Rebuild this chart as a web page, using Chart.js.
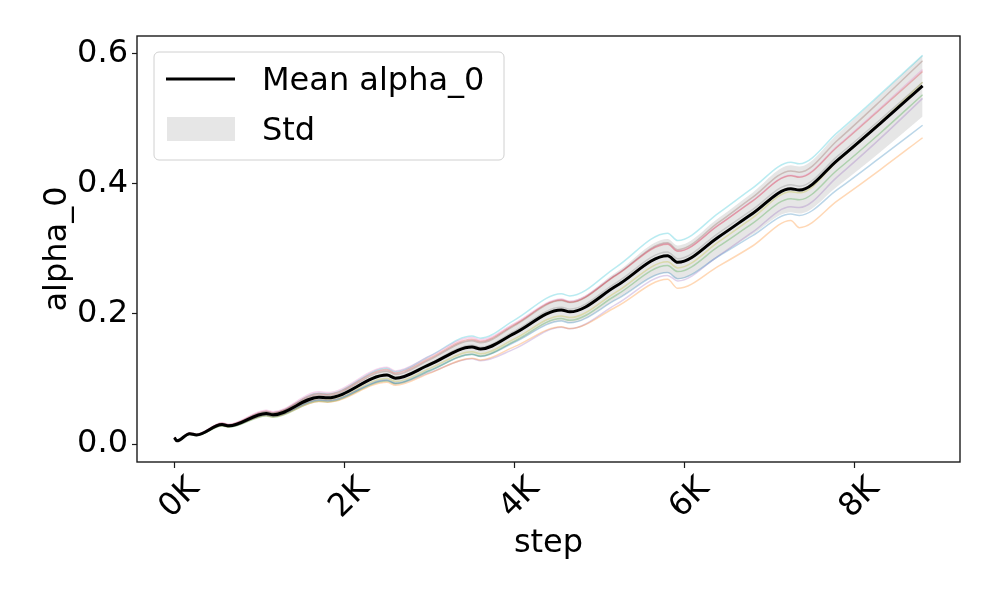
<!DOCTYPE html>
<html>
<head>
<meta charset="utf-8">
<script src="https://cdn.jsdelivr.net/npm/chart.js@4.4.1/dist/chart.umd.min.js"></script>
<style>
    html, body { margin: 0; padding: 0; background: #fff; }
</style>
</head>
<body>
<canvas id="alphaChart" width="996" height="598"></canvas>
<script>
/* ==================
    DATOS
================== */

const steps = [0, 30, 180, 260, 560, 640, 1080, 1160, 1700, 1800, 2500, 2600, 3000, 3500,
    3600, 4000, 4550, 4650, 5200, 5800, 5920, 6400, 6800, 7250, 7350, 7800, 8300, 8800];

const meanAlpha = [0.010, 0.005, 0.016, 0.014, 0.030, 0.028, 0.047, 0.045, 0.072, 0.071, 0.106, 0.101, 0.122, 0.149,
    0.146, 0.170, 0.206, 0.203, 0.243, 0.289, 0.279, 0.318, 0.354, 0.392, 0.390, 0.436, 0.492, 0.550];

const stdAlpha = [0.001, 0.001, 0.0015, 0.0015, 0.002, 0.002, 0.003, 0.003, 0.005, 0.005, 0.008, 0.008, 0.009, 0.011,
    0.012, 0.014, 0.017, 0.017, 0.021, 0.026, 0.026, 0.029, 0.032, 0.036, 0.036, 0.040, 0.044, 0.047];

// corridas individuales (una por semilla)
const runBlue = [0.0096, 0.0048, 0.0153, 0.0134, 0.0286, 0.0266, 0.0444, 0.0424, 0.0673, 0.0662, 0.0983, 0.0936, 0.1129, 0.1375,
    0.1346, 0.1564, 0.1889, 0.1862, 0.2221, 0.2633, 0.2539, 0.2884, 0.3200, 0.3532, 0.3510, 0.3910, 0.4398, 0.4895];
const runOrange = [0.0097, 0.0048, 0.0154, 0.0135, 0.0285, 0.0265, 0.0438, 0.0418, 0.0655, 0.0644, 0.0949, 0.0903, 0.1086, 0.1319,
    0.1291, 0.1496, 0.1801, 0.1773, 0.2109, 0.2529, 0.2391, 0.2732, 0.3041, 0.3434, 0.3323, 0.3736, 0.4211, 0.4703];
const runGreen = [0.0093, 0.0047, 0.0148, 0.0130, 0.0277, 0.0259, 0.0432, 0.0413, 0.0657, 0.0648, 0.0970, 0.0925, 0.1122, 0.1378,
    0.1352, 0.1581, 0.1927, 0.1901, 0.2289, 0.2740, 0.2648, 0.3034, 0.3388, 0.3767, 0.3752, 0.4212, 0.4772, 0.5363];
const runRed = [0.0106, 0.0053, 0.0170, 0.0149, 0.0320, 0.0298, 0.0503, 0.0482, 0.0775, 0.0765, 0.1145, 0.1091, 0.1318, 0.1609,
    0.1577, 0.1836, 0.2213, 0.2179, 0.2595, 0.3069, 0.2960, 0.3361, 0.3731, 0.4120, 0.4095, 0.4565, 0.5137, 0.5720];
const runPurple = [0.0098, 0.0049, 0.0156, 0.0137, 0.0291, 0.0271, 0.0450, 0.0431, 0.0681, 0.0670, 0.0975, 0.0925, 0.1098, 0.1311,
    0.1279, 0.1462, 0.1794, 0.1772, 0.2148, 0.2589, 0.2505, 0.2891, 0.3253, 0.3642, 0.3631, 0.4107, 0.4689, 0.5308];
const runBrown = [0.0103, 0.0052, 0.0165, 0.0145, 0.0311, 0.0290, 0.0489, 0.0469, 0.0754, 0.0744, 0.1118, 0.1067, 0.1293, 0.1587,
    0.1556, 0.1819, 0.2204, 0.2172, 0.2600, 0.3092, 0.2985, 0.3403, 0.3788, 0.4194, 0.4173, 0.4665, 0.5264, 0.5885];
const runPink = [0.0108, 0.0054, 0.0173, 0.0152, 0.0327, 0.0306, 0.0518, 0.0496, 0.0802, 0.0792, 0.1179, 0.1122, 0.1348, 0.1635,
    0.1600, 0.1853, 0.2229, 0.2192, 0.2605, 0.3074, 0.2963, 0.3364, 0.3738, 0.4128, 0.4103, 0.4578, 0.5156, 0.5748];
const runGray = [0.0100, 0.0050, 0.0160, 0.0140, 0.0301, 0.0281, 0.0472, 0.0453, 0.0726, 0.0716, 0.1073, 0.1023, 0.1238, 0.1516,
    0.1486, 0.1734, 0.2101, 0.2071, 0.2479, 0.2948, 0.2846, 0.3240, 0.3600, 0.3983, 0.3959, 0.4421, 0.4979, 0.5555];
const runOlive = [0.0096, 0.0048, 0.0153, 0.0134, 0.0287, 0.0268, 0.0449, 0.0429, 0.0685, 0.0675, 0.1007, 0.0960, 0.1159, 0.1416,
    0.1387, 0.1615, 0.1968, 0.1942, 0.2338, 0.2798, 0.2704, 0.3104, 0.3473, 0.3873, 0.3857, 0.4343, 0.4935, 0.5555];
const runCyan = [0.0104, 0.0052, 0.0167, 0.0147, 0.0316, 0.0296, 0.0501, 0.0481, 0.0780, 0.0770, 0.1163, 0.1110, 0.1348, 0.1658,
    0.1626, 0.1904, 0.2307, 0.2274, 0.2722, 0.3237, 0.3125, 0.3546, 0.3929, 0.4328, 0.4302, 0.4785, 0.5368, 0.5968];

const runs = [runBlue, runOrange, runGreen, runRed, runPurple, runBrown, runPink, runGray, runOlive, runCyan];
const runColors = ["#1f77b4", "#ff7f0e", "#2ca02c", "#d62728", "#9467bd",
    "#8c564b", "#e377c2", "#7f7f7f", "#bcbd22", "#17becf"];

const xTicks = [0, 2000, 4000, 6000, 8000];
const yTicks = [0.0, 0.2, 0.4, 0.6];

/* ==================
    AYUDAS
================== */

const FUENTE = "'DejaVu Sans', 'Liberation Sans', sans-serif";

function aPuntos(valores) {
    return steps.map((s, i) => ({ x: s, y: valores[i] }));
}

function hexConAlfa(hex, alfa) {
    const r = parseInt(hex.slice(1, 3), 16);
    const g = parseInt(hex.slice(3, 5), 16);
    const b = parseInt(hex.slice(5, 7), 16);
    return `rgba(${r}, ${g}, ${b}, ${alfa})`;
}

// marco de los ejes + leyenda tipo matplotlib
const marcoYLeyenda = {
    id: "marcoYLeyenda",
    afterDraw(chart) {
        const { ctx, chartArea } = chart;
        ctx.save();
        ctx.strokeStyle = "#1a1a1a";
        ctx.lineWidth = 1.4;
        ctx.strokeRect(chartArea.left, chartArea.top,
            chartArea.right - chartArea.left, chartArea.bottom - chartArea.top);

        const x0 = chartArea.left + 17;
        const y0 = chartArea.top + 16;
        ctx.beginPath();
        ctx.roundRect(x0, y0, 350, 108, 5);
        ctx.fillStyle = "rgba(255, 255, 255, 0.8)";
        ctx.fill();
        ctx.strokeStyle = "#d0d0d0";
        ctx.lineWidth = 1;
        ctx.stroke();

        ctx.beginPath();
        ctx.moveTo(x0 + 12, y0 + 27);
        ctx.lineTo(x0 + 81, y0 + 27);
        ctx.strokeStyle = "#000";
        ctx.lineWidth = 3;
        ctx.stroke();

        ctx.fillStyle = "#e6e6e6";
        ctx.fillRect(x0 + 13, y0 + 65, 68, 24);

        ctx.fillStyle = "#000";
        ctx.font = `32px ${FUENTE}`;
        ctx.textBaseline = "alphabetic";
        ctx.textAlign = "left";
        ctx.fillText("Mean alpha_0", x0 + 108, y0 + 38);
        ctx.fillText("Std", x0 + 108, y0 + 88);
        ctx.restore();
    },
};

/* ==================
    GRAFICA
================== */

function renderizarGrafica() {
    const canvas = document.getElementById("alphaChart");
    if (!canvas || typeof Chart === "undefined") {
        return;
    }

    Chart.defaults.font.family = FUENTE;
    Chart.defaults.color = "#000";

    const datasets = [{
        label: "Mean alpha_0",
        data: aPuntos(meanAlpha),
        borderColor: "#000",
        borderWidth: 3,
        pointRadius: 0,
        cubicInterpolationMode: "monotone",
        fill: false,
    }];

    runs.forEach((run, i) => {
        datasets.push({
            label: `run ${i}`,
            data: aPuntos(run),
            borderColor: hexConAlfa(runColors[i], 0.3),
            borderWidth: 1.5,
            pointRadius: 0,
            cubicInterpolationMode: "monotone",
            fill: false,
        });
    });

    datasets.push({
        label: "Std",
        data: aPuntos(meanAlpha.map((m, i) => m + stdAlpha[i])),
        borderWidth: 0,
        borderColor: "rgba(0,0,0,0)",
        backgroundColor: "rgba(128, 128, 128, 0.2)",
        pointRadius: 0,
        cubicInterpolationMode: "monotone",
        fill: "+1",
    });
    datasets.push({
        label: "Std low",
        data: aPuntos(meanAlpha.map((m, i) => m - stdAlpha[i])),
        borderWidth: 0,
        borderColor: "rgba(0,0,0,0)",
        pointRadius: 0,
        cubicInterpolationMode: "monotone",
        fill: false,
    });

    new Chart(canvas.getContext("2d"), {
        type: "line",
        data: { datasets },
        options: {
            responsive: false,
            animation: false,
            devicePixelRatio: 1,
            layout: { padding: { top: 36, right: 36, left: 0, bottom: 0 } },
            plugins: {
                legend: { display: false },
                tooltip: { enabled: false },
            },
            scales: {
                x: {
                    type: "linear",
                    min: -440,
                    max: 9240,
                    afterFit: (scale) => { scale.height = 136; },
                    afterBuildTicks: (scale) => { scale.ticks = xTicks.map((v) => ({ value: v })); },
                    border: { display: false },
                    grid: { drawOnChartArea: false, drawTicks: true, tickLength: 6, color: "#1a1a1a", tickWidth: 1.2 },
                    ticks: {
                        autoSkip: false,
                        minRotation: 45,
                        maxRotation: 45,
                        labelOffset: 20,
                        padding: 2,
                        font: { size: 32 },
                        callback: (v) => `${v / 1000}K`,
                    },
                    title: {
                        display: true,
                        text: "step",
                        font: { size: 32 },
                        padding: { top: 0, bottom: 35 },
                    },
                },
                y: {
                    type: "linear",
                    min: -0.0275,
                    max: 0.6265,
                    afterFit: (scale) => { scale.width = 137; },
                    afterBuildTicks: (scale) => { scale.ticks = yTicks.map((v) => ({ value: v })); },
                    border: { display: false },
                    grid: { drawOnChartArea: false, drawTicks: true, tickLength: 5, color: "#1a1a1a", tickWidth: 1.2 },
                    ticks: {
                        padding: 4,
                        font: { size: 32 },
                        callback: (v) => v.toFixed(1),
                    },
                    title: {
                        display: true,
                        text: "alpha_0",
                        font: { size: 32 },
                        padding: { top: 38, bottom: 0 },
                    },
                },
            },
        },
        plugins: [marcoYLeyenda],
    });
}

if (document.readyState === "loading") {
    document.addEventListener("DOMContentLoaded", renderizarGrafica);
} else {
    renderizarGrafica();
}
</script>
</body>
</html>
